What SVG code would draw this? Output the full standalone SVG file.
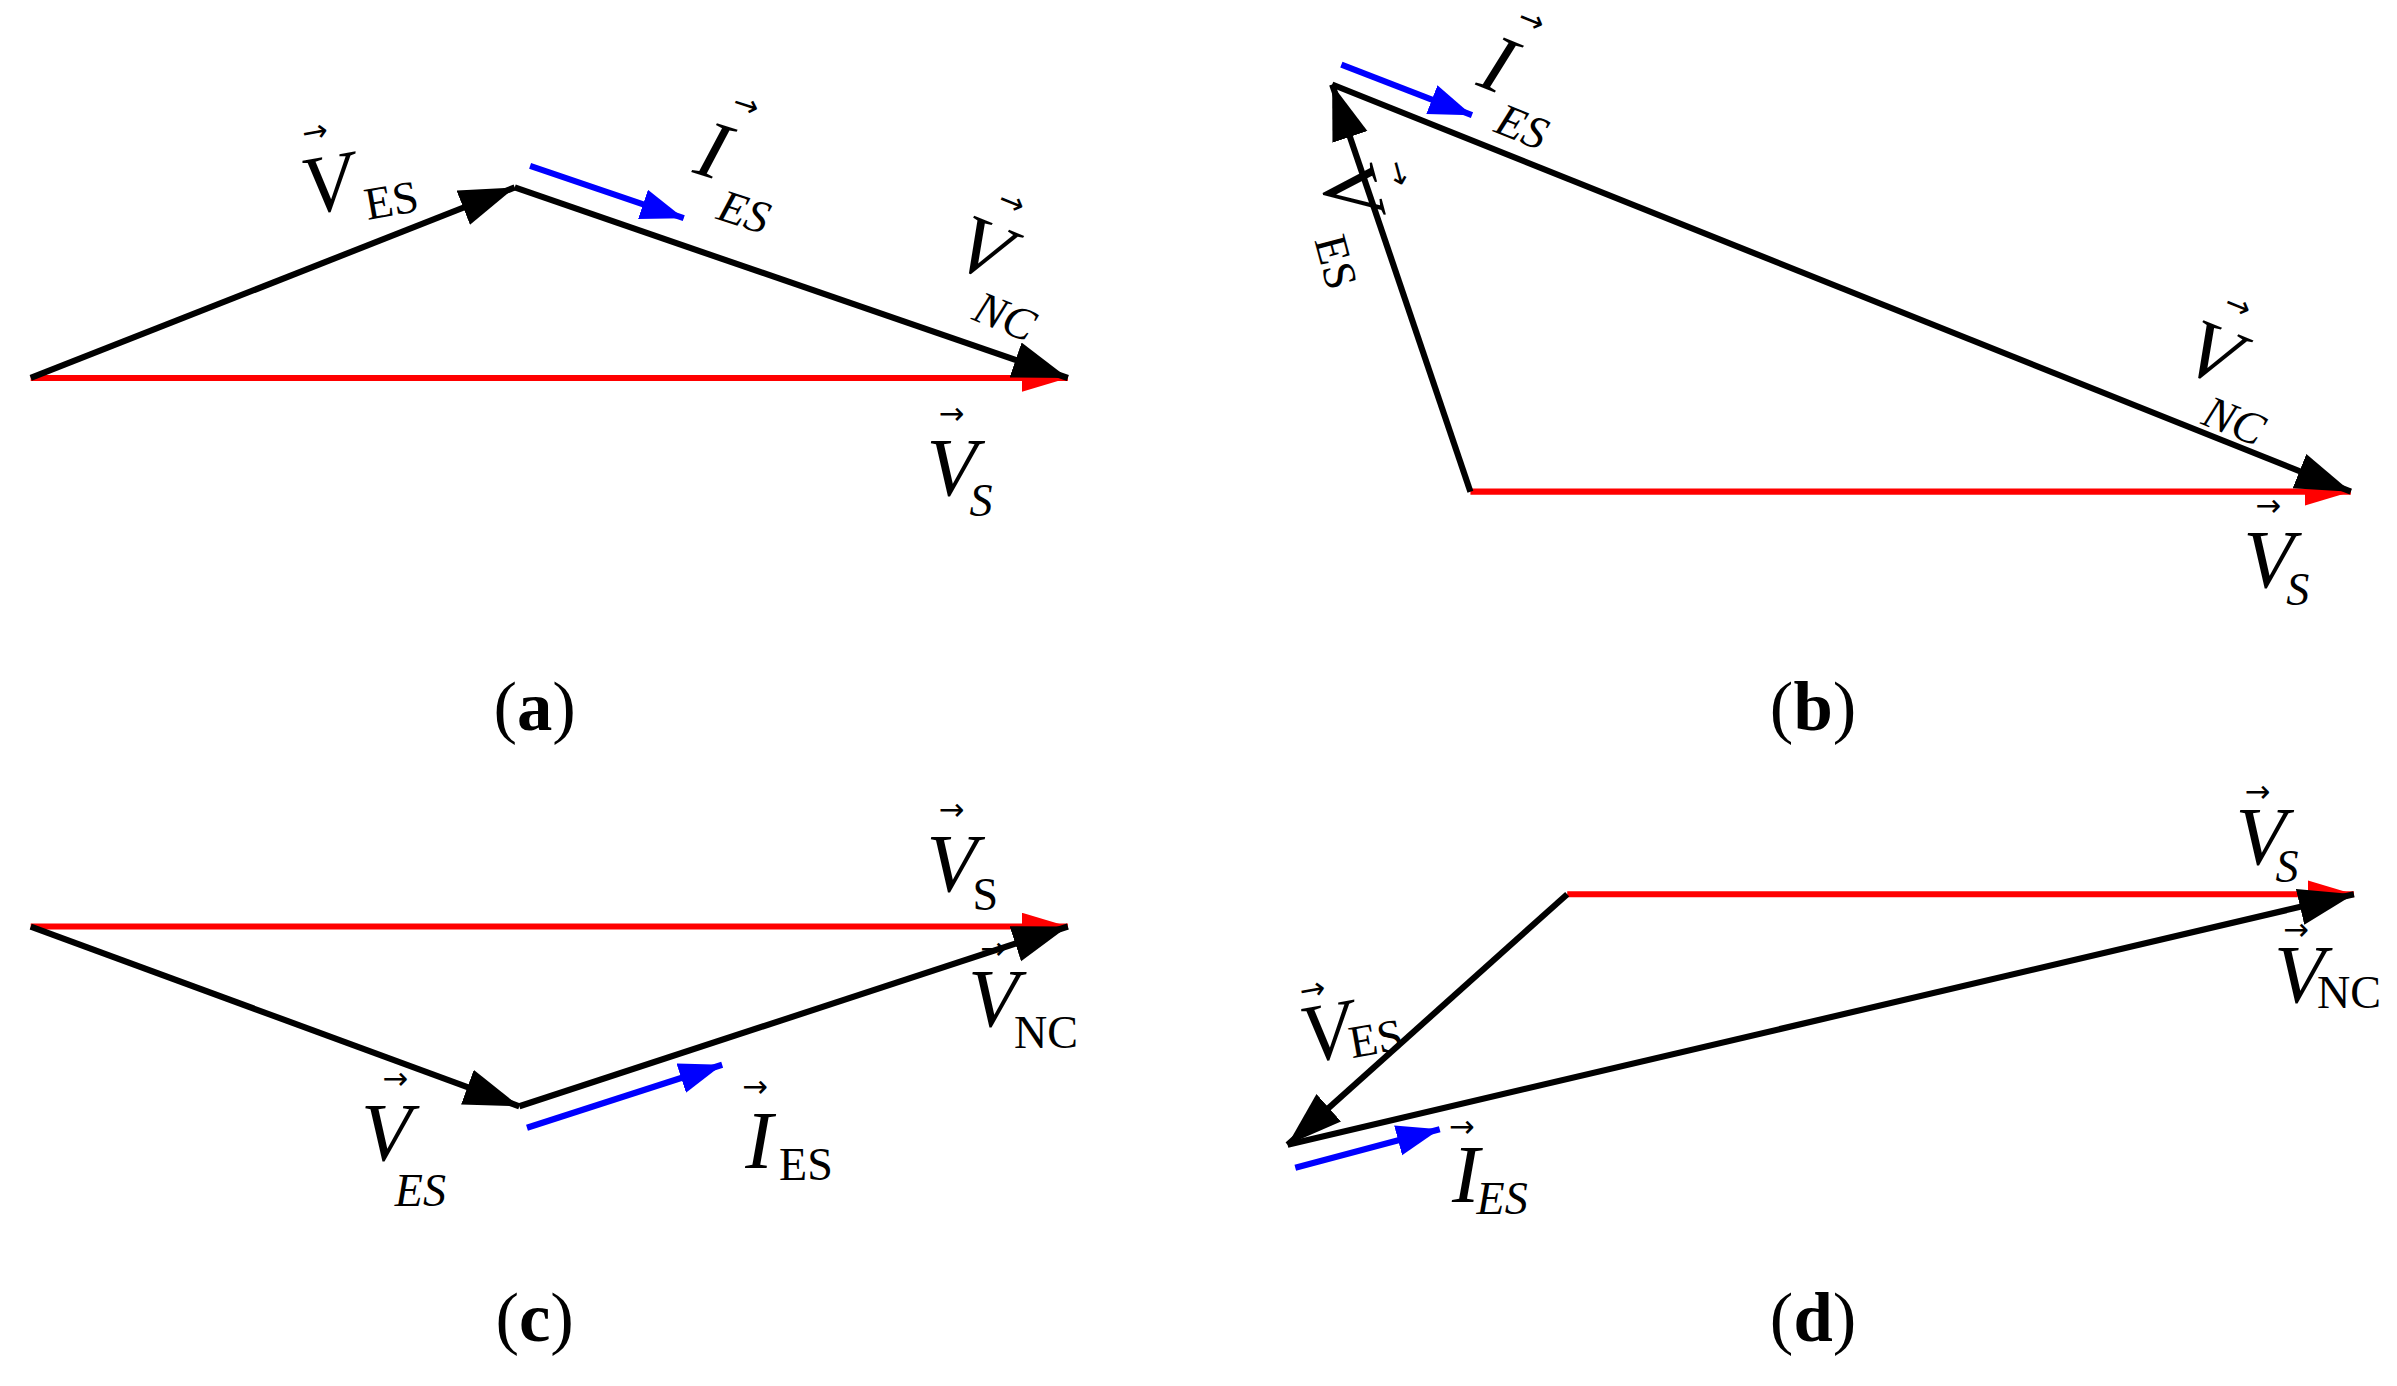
<svg xmlns="http://www.w3.org/2000/svg" width="2397" height="1386" viewBox="0 0 2397 1386">
<style>
.k{stroke:#000;stroke-width:4;fill:none}
.r{stroke:#f00;stroke-width:4;fill:none}
.b{stroke:#00f;stroke-width:4;fill:none}
.v{font-family:"Liberation Serif",serif;font-style:italic;font-size:54px;fill:#000}
.s{font-family:"Liberation Serif",serif;font-size:30px;fill:#000}
.si{font-family:"Liberation Serif",serif;font-style:italic;font-size:30px;fill:#000}
.ar{font-family:"DejaVu Sans",sans-serif;font-size:20px;fill:#000}
.cap{font-family:"Liberation Serif",serif;font-size:46px;fill:#000}
</style>
<defs>
<marker id="mk" markerUnits="userSpaceOnUse" markerWidth="40" markerHeight="26" refX="36" refY="12" orient="auto"><path d="M0,0 L36,12 L0,24 z" fill="#000"/></marker>
<marker id="mr" markerUnits="userSpaceOnUse" markerWidth="34" markerHeight="20" refX="30" refY="9" orient="auto"><path d="M0,0 L30,9 L0,18 z" fill="#f00"/></marker>
<marker id="mb" markerUnits="userSpaceOnUse" markerWidth="32" markerHeight="22" refX="28" refY="10" orient="auto"><path d="M0,0 L28,10 L0,20 z" fill="#00f"/></marker>
</defs>
<g transform="scale(1.5365)">
<g id="connectors">
<line class="r" x1="20" y1="246" x2="695" y2="246" marker-end="url(#mr)"/>
<line class="k" x1="20" y1="246" x2="335" y2="122" marker-end="url(#mk)"/>
<line class="k" x1="335" y1="122" x2="695" y2="246" marker-end="url(#mk)"/>
<line class="b" x1="345" y1="108" x2="445" y2="142" marker-end="url(#mb)"/>

<line class="r" x1="957" y1="320" x2="1530" y2="320" marker-end="url(#mr)"/>
<line class="k" x1="957" y1="320" x2="867" y2="55" marker-end="url(#mk)"/>
<line class="k" x1="867" y1="55" x2="1530" y2="320" marker-end="url(#mk)"/>
<line class="b" x1="873" y1="42" x2="958" y2="75" marker-end="url(#mb)"/>

<line class="r" x1="20" y1="603" x2="695" y2="603" marker-end="url(#mr)"/>
<line class="k" x1="20" y1="603" x2="338" y2="720" marker-end="url(#mk)"/>
<line class="k" x1="338" y1="720" x2="695" y2="603" marker-end="url(#mk)"/>
<line class="b" x1="343" y1="734" x2="470" y2="693" marker-end="url(#mb)"/>

<line class="r" x1="1020" y1="582" x2="1532" y2="582" marker-end="url(#mr)"/>
<line class="k" x1="1020" y1="582" x2="838" y2="745" marker-end="url(#mk)"/>
<line class="k" x1="838" y1="745" x2="1532" y2="582" marker-end="url(#mk)"/>
<line class="b" x1="843" y1="760" x2="937" y2="735" marker-end="url(#mb)"/>
</g>
<g id="labels-a">
<g transform="translate(200,140) rotate(-10)"><text class="ar" x="6" y="-46">→</text><text class="v" x="0" y="0">V</text><text class="s" x="38" y="10">ES</text></g>
<g transform="translate(450,112) rotate(18)"><text class="ar" x="12" y="-46">→</text><text class="v" x="0" y="0">I</text><text class="si" x="24" y="24">ES</text></g>
<g transform="translate(618,172) rotate(22)"><text class="ar" x="14" y="-46">→</text><text class="v" x="0" y="0">V</text><text class="si" x="26" y="28">NC</text></g>
<g transform="translate(603,322)"><text class="ar" x="8" y="-46">→</text><text class="v" x="0" y="0">V</text><text class="si" x="28" y="14">S</text></g>
<text class="cap" x="348" y="475" text-anchor="middle">(<tspan font-weight="bold">a</tspan>)</text>
</g>
<g id="labels-b">
<g transform="translate(960,55) rotate(22)"><text class="ar" x="10" y="-46">→</text><text class="v" x="0" y="0">I</text><text class="si" x="22" y="24">ES</text></g>
<g transform="translate(858,112) rotate(75)"><text class="ar" x="6" y="-44">→</text><text class="v" x="0" y="0" font-style="normal">V</text><text class="s" x="42" y="14" font-size="24">ES</text></g>
<g transform="translate(1418,240) rotate(22)"><text class="ar" x="12" y="-46">→</text><text class="v" x="0" y="0">V</text><text class="si" x="26" y="28">NC</text></g>
<g transform="translate(1460,382)"><text class="ar" x="8" y="-46">→</text><text class="v" x="0" y="0">V</text><text class="si" x="28" y="12">S</text></g>
<text class="cap" x="1180" y="475" text-anchor="middle">(<tspan font-weight="bold">b</tspan>)</text>
</g>
<g id="labels-c">
<g transform="translate(603,580)"><text class="ar" x="8" y="-46">→</text><text class="v" x="0" y="0">V</text><text class="s" x="30" y="12">S</text></g>
<g transform="translate(630,668)"><text class="ar" x="8" y="-44">→</text><text class="v" x="0" y="0">V</text><text class="s" x="30" y="14">NC</text></g>
<g transform="translate(485,760)"><text class="ar" x="-2" y="-46">→</text><text class="v" x="0" y="0" font-style="normal">I</text><text class="s" x="22" y="8">ES</text></g>
<g transform="translate(235,755)"><text class="ar" x="14" y="-46">→</text><text class="v" x="0" y="0">V</text><text class="si" x="22" y="30">ES</text></g>
<text class="cap" x="348" y="873" text-anchor="middle">(<tspan font-weight="bold">c</tspan>)</text>
</g>
<g id="labels-d">
<g transform="translate(1455,562)"><text class="ar" x="6" y="-40">→</text><text class="v" x="0" y="0" font-size="44">V</text><text class="si" x="26" y="12" font-size="26">S</text></g>
<g transform="translate(1480,652)"><text class="ar" x="6" y="-40">→</text><text class="v" x="0" y="0" font-size="44">V</text><text class="s" x="28" y="4" font-size="26">NC</text></g>
<g transform="translate(850,692) rotate(-10)"><text class="ar" x="4" y="-40">→</text><text class="v" x="0" y="0" font-size="44">V</text><text class="s" x="30" y="2" font-size="26">ES</text></g>
<g transform="translate(945,782)"><text class="ar" x="-2" y="-42">→</text><text class="v" x="0" y="0" font-size="46">I</text><text class="si" x="16" y="8" font-size="28">ES</text></g>
<text class="cap" x="1180" y="873" text-anchor="middle">(<tspan font-weight="bold">d</tspan>)</text>
</g>
</g>
</svg>
